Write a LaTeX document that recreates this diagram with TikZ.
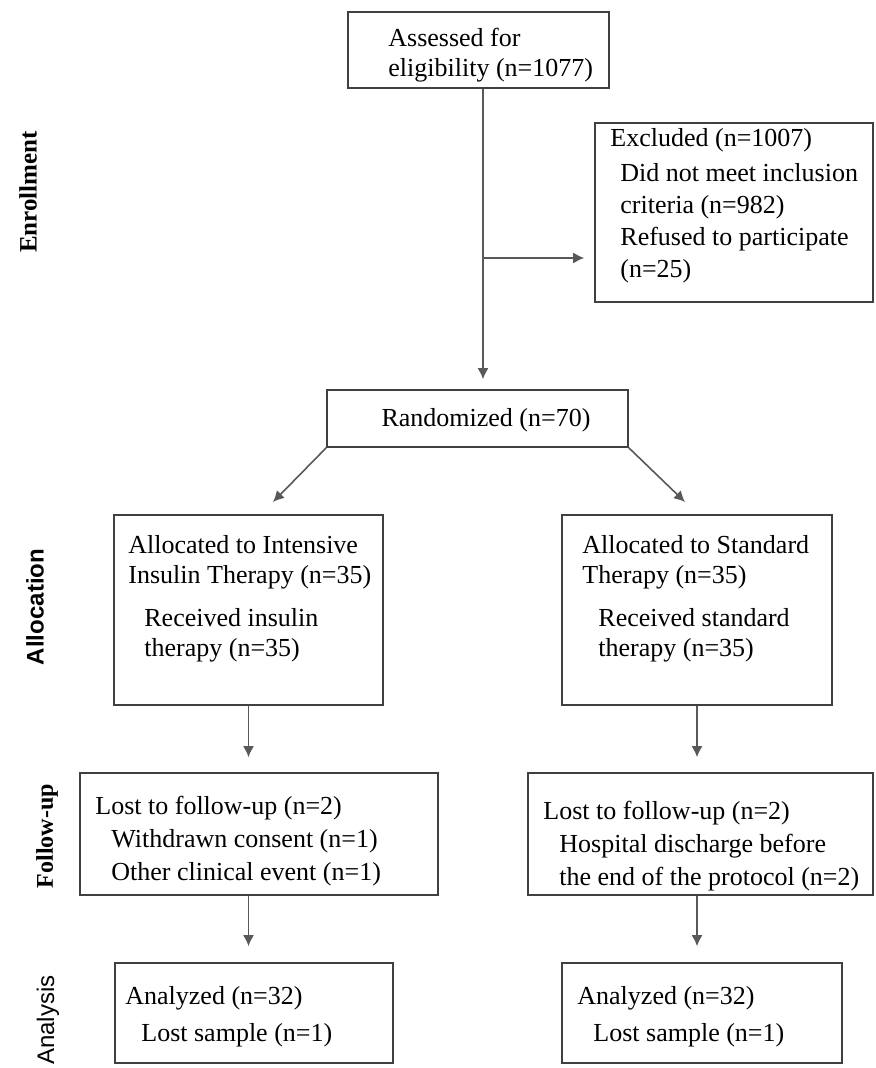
\documentclass[tikz,border=0pt]{standalone}
\usepackage{fontspec}
\setmainfont{Liberation Serif}
\setsansfont{Liberation Sans}
\usetikzlibrary{arrows.meta,fit}
\newcommand{\indtab}{\hspace*{8pt}}

\begin{document}
\begin{tikzpicture}[x=0.5pt,y=-0.5pt,
        box/.style={draw=black!75,line width=0.8pt,inner sep=0pt},
        txt/.style={anchor=north west,inner sep=0pt,align=left,font=\fontsize{13}{15}\selectfont},
        arr/.style={draw=black!65,line width=0.8pt,-{Latex[length=5.5pt,width=5.5pt]}},
        phase/.style={rotate=90,inner sep=0pt}]
                \path[fill=white] (0,0) rectangle (875,1068);
                \useasboundingbox (0,0) rectangle (875,1068);

                \node[box,fit={(348,12) (609,88)}] (ASSESS) {};
                \node[box,fit={(595,123) (873,302)}] (EXCL) {};
                \node[box,fit={(327,390) (628,447)}] (RAND) {};
                \node[box,fit={(114,515) (383,705)}] (ALLOC1) {};
                \node[box,fit={(562,515) (832,705)}] (ALLOC2) {};
                \node[box,fit={(80,773) (438,895)}] (FU1) {};
                \node[box,fit={(528,773) (873,895)}] (FU2) {};
                \node[box,fit={(115,963) (393,1063)}] (AN1) {};
                \node[box,fit={(562,963) (842,1063)}] (AN2) {};

                \node[txt] (ASSESSt) at (388,28) {Assessed for\\eligibility (n=1077)};
                \node[txt,font=\fontsize{13}{16}\selectfont] (EXCLt) at (610,128) {Excluded (n=1007)\\[1.5pt]\hspace*{5pt}Did not meet inclusion\\\hspace*{5pt}criteria (n=982)\\\hspace*{5pt}Refused to participate\\\hspace*{5pt}(n=25)};
                \node[txt,anchor=center] (RANDt) at (486,420) {Randomized (n=70)};
                \node[txt] (ALLOC1t) at (128,535) {Allocated to Intensive\\Insulin Therapy (n=35)\\[6.5pt]\indtab Received insulin\\\indtab therapy (n=35)};
                \node[txt] (ALLOC2t) at (582,535) {Allocated to Standard\\Therapy (n=35)\\[6.5pt]\indtab Received standard\\\indtab therapy (n=35)};
                \node[txt,font=\fontsize{13}{16.5}\selectfont] (FU1t) at (95,796) {Lost to follow-up (n=2)\\\indtab Withdrawn consent (n=1)\\\indtab Other clinical event (n=1)};
                \node[txt,font=\fontsize{13}{16.5}\selectfont] (FU2t) at (543,801) {Lost to follow-up (n=2)\\\indtab Hospital discharge before\\\indtab the end of the protocol (n=2)};
                \node[txt,font=\fontsize{13}{18.5}\selectfont] (AN1t) at (125,986) {Analyzed (n=32)\\\indtab Lost sample (n=1)};
                \node[txt,font=\fontsize{13}{18.5}\selectfont] (AN2t) at (577,986) {Analyzed (n=32)\\\indtab Lost sample (n=1)};

                \node[phase,font=\bfseries\fontsize{12.5}{14}\selectfont] (ENROL) at (28,192) {Enrollment};
                \node[phase,font=\sffamily\bfseries\fontsize{12}{14}\selectfont] (ALLOC) at (35,607) {Allocation};
                \node[phase,font=\bfseries\fontsize{12}{14}\selectfont] (FOLLOW) at (47,836) {Follow-up};
                \node[phase,font=\sffamily\fontsize{12}{14}\selectfont] (ANALYSIS) at (48,1020) {Analysis};

                \coordinate (SPLIT) at (483,258);
                \coordinate (TIP1) at (273,502);
                \coordinate (TIP2) at (685,502);

                \draw[arr,shorten >=5pt] (ASSESS.south -| SPLIT) -- (SPLIT |- RAND.north);
                \draw[arr,shorten >=5pt] (SPLIT) -- (SPLIT -| EXCL.west);
                \draw[arr] (RAND.south west) -- (TIP1);
                \draw[arr] (RAND.south east) -- (TIP2);
                \draw[arr,shorten >=7.5pt] (ALLOC1.south) -- (ALLOC1.south |- FU1.north);
                \draw[arr,shorten >=7.5pt] (ALLOC2.south) -- (ALLOC2.south |- FU2.north);
                \draw[arr,shorten >=8pt] (ALLOC1.south |- FU1.south) -- (ALLOC1.south |- AN1.north);
                \draw[arr,shorten >=8pt] (ALLOC2.south |- FU2.south) -- (ALLOC2.south |- AN2.north);
        \end{tikzpicture}
\end{document}
